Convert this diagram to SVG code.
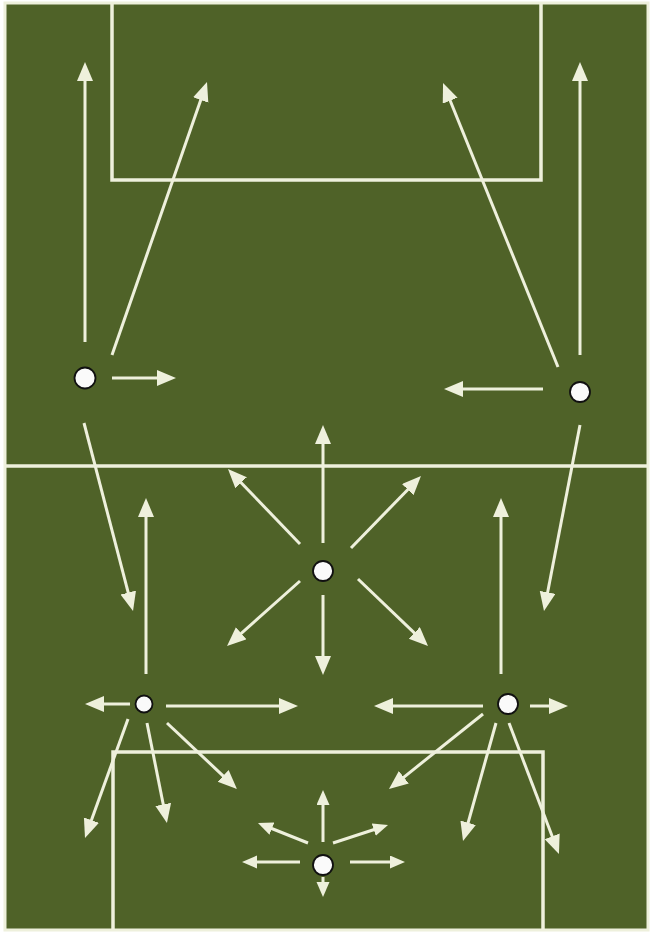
<svg xmlns="http://www.w3.org/2000/svg" width="652" height="932" viewBox="0 0 652 932">
<style>
.field{fill:#4f6228;stroke:#eef0dc;stroke-width:3}
.mark{fill:none;stroke:#eef0dc;stroke-width:3.5}
.arr{stroke:#eef0dc;stroke-width:3;fill:none;marker-end:url(#ah)}
.arrs{stroke:#eef0dc;stroke-width:3;fill:none;marker-end:url(#ahs)}
.pl{fill:#fafafa;stroke:#111;stroke-width:1.8}
</style>
<defs>
<marker id="ah" markerUnits="userSpaceOnUse" markerWidth="19" markerHeight="17" refX="9" refY="8" orient="auto">
<path d="M0,0 L19,8 L0,16 z" fill="#eef0dc"/>
</marker>
<marker id="ahs" markerUnits="userSpaceOnUse" markerWidth="15" markerHeight="14" refX="7" refY="6.5" orient="auto">
<path d="M0,0 L15,6.5 L0,13 z" fill="#eef0dc"/>
</marker>
</defs>
<rect x="0" y="0" width="652" height="932" fill="#ffffff"/>
<g id="pitch">
<rect class="field" x="5" y="3" width="643" height="927"/>
<path class="mark" d="M112,3 V180 H541 V3"/>
<line class="mark" x1="5" y1="466" x2="648" y2="466"/>
<path class="mark" d="M113,930 V752 H543 V930"/>
</g>
<g id="connectors">
<line class="arr" x1="85" y1="342" x2="85" y2="72"/>
<line class="arr" x1="112" y1="355" x2="203.7" y2="91.5"/>
<line class="arr" x1="112" y1="378" x2="166" y2="378"/>
<line class="arr" x1="84" y1="423" x2="130.5" y2="601.3"/>
<line class="arr" x1="580" y1="355" x2="580" y2="72"/>
<line class="arr" x1="558" y1="367" x2="446.8" y2="92.3"/>
<line class="arr" x1="543" y1="389" x2="454" y2="389"/>
<line class="arr" x1="580" y1="425" x2="545.9" y2="601.2"/>
<line class="arr" x1="323" y1="543" x2="323" y2="435"/>
<line class="arr" x1="323" y1="595" x2="323" y2="665"/>
<line class="arr" x1="300" y1="544" x2="234.9" y2="476.2"/>
<line class="arr" x1="351" y1="548" x2="414" y2="483.2"/>
<line class="arr" x1="300" y1="581" x2="234.5" y2="639.3"/>
<line class="arr" x1="358" y1="579" x2="420.8" y2="639.1"/>
<line class="arr" x1="146" y1="674" x2="146" y2="508"/>
<line class="arr" x1="130" y1="704" x2="95" y2="704"/>
<line class="arr" x1="166" y1="706" x2="288" y2="706"/>
<line class="arr" x1="128" y1="719" x2="88.4" y2="828.6"/>
<line class="arr" x1="147" y1="723" x2="165" y2="813.2"/>
<line class="arr" x1="167" y1="723" x2="229.7" y2="782.1"/>
<line class="arr" x1="501" y1="674" x2="501" y2="508"/>
<line class="arr" x1="483" y1="706" x2="384" y2="706"/>
<line class="arr" x1="530" y1="706" x2="558" y2="706"/>
<line class="arr" x1="483" y1="714" x2="396.8" y2="782.8"/>
<line class="arr" x1="496" y1="723" x2="465.7" y2="831.4"/>
<line class="arr" x1="509" y1="723" x2="555.4" y2="844.7"/>
<line class="arrs" x1="323" y1="842" x2="323" y2="798"/>
<line class="arrs" x1="308" y1="843" x2="265.4" y2="826"/>
<line class="arrs" x1="333" y1="843" x2="380.4" y2="827.5"/>
<line class="arrs" x1="300" y1="862" x2="250" y2="862"/>
<line class="arrs" x1="350" y1="862" x2="397" y2="862"/>
<line class="arrs" x1="323" y1="877" x2="323" y2="889"/>
</g>
<g id="player1"><circle class="pl" cx="85" cy="378" r="10.5"/></g>
<g id="player2"><circle class="pl" cx="580" cy="392" r="10"/></g>
<g id="player3"><circle class="pl" cx="323" cy="571" r="10"/></g>
<g id="player4"><circle class="pl" cx="144" cy="704" r="8.5"/></g>
<g id="player5"><circle class="pl" cx="508" cy="704" r="10"/></g>
<g id="player6"><circle class="pl" cx="323" cy="865" r="10"/></g>
</svg>
